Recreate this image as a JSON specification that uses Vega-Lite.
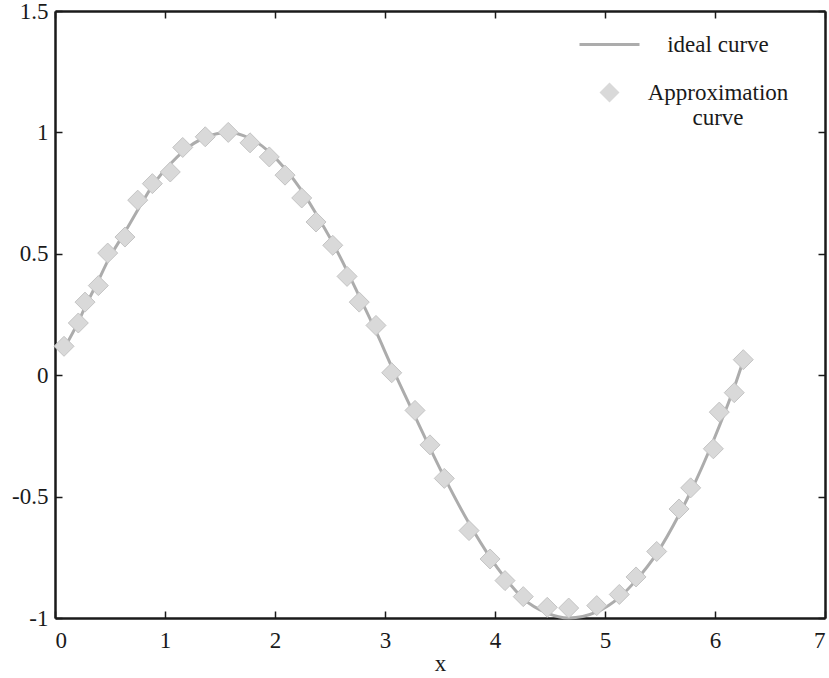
{
  "$schema": "https://vega.github.io/schema/vega-lite/v6.json",
  "width": 770,
  "height": 607,
  "autosize": {"type": "none"},
  "padding": {"left": 55, "top": 11, "right": 4, "bottom": 60},
  "background": "white",
  "config": {
    "view": {"stroke": null},
    "font": "'Liberation Serif', 'Times New Roman', Times, serif",
    "axis": {
      "grid": false,
      "domainColor": "#1a1a1a",
      "domainWidth": 2.5,
      "tickColor": "#1a1a1a",
      "tickWidth": 1.5,
      "tickSize": -7,
      "labelFont": "'Liberation Serif', 'Times New Roman', Times, serif",
      "labelFontSize": 23,
      "labelColor": "#1a1a1a",
      "titleFont": "'Liberation Serif', 'Times New Roman', Times, serif",
      "titleFontSize": 23,
      "titleFontWeight": "normal",
      "titleColor": "#1a1a1a"
    },
    "legend": {
      "labelFont": "'Liberation Serif', 'Times New Roman', Times, serif",
      "labelFontSize": 23,
      "labelColor": "#1a1a1a",
      "labelLimit": 400,
      "padding": 0
    }
  },
  "datasets": {
    "ideal": [
      {"x": 0.082, "y": 0.11, "series": "ideal curve"},
      {"x": 0.212, "y": 0.22, "series": "ideal curve"},
      {"x": 0.273, "y": 0.28, "series": "ideal curve"},
      {"x": 0.394, "y": 0.39, "series": "ideal curve"},
      {"x": 0.479, "y": 0.47, "series": "ideal curve"},
      {"x": 0.636, "y": 0.59, "series": "ideal curve"},
      {"x": 0.752, "y": 0.68, "series": "ideal curve"},
      {"x": 0.885, "y": 0.78, "series": "ideal curve"},
      {"x": 1.048, "y": 0.87, "series": "ideal curve"},
      {"x": 1.161, "y": 0.92, "series": "ideal curve"},
      {"x": 1.366, "y": 0.98, "series": "ideal curve"},
      {"x": 1.575, "y": 1.0, "series": "ideal curve"},
      {"x": 1.773, "y": 0.975, "series": "ideal curve"},
      {"x": 1.948, "y": 0.92, "series": "ideal curve"},
      {"x": 2.091, "y": 0.85, "series": "ideal curve"},
      {"x": 2.243, "y": 0.76, "series": "ideal curve"},
      {"x": 2.373, "y": 0.665, "series": "ideal curve"},
      {"x": 2.525, "y": 0.545, "series": "ideal curve"},
      {"x": 2.655, "y": 0.43, "series": "ideal curve"},
      {"x": 2.766, "y": 0.325, "series": "ideal curve"},
      {"x": 2.918, "y": 0.18, "series": "ideal curve"},
      {"x": 3.061, "y": 0.035, "series": "ideal curve"},
      {"x": 3.273, "y": -0.17, "series": "ideal curve"},
      {"x": 3.409, "y": -0.3, "series": "ideal curve"},
      {"x": 3.539, "y": -0.42, "series": "ideal curve"},
      {"x": 3.764, "y": -0.61, "series": "ideal curve"},
      {"x": 3.955, "y": -0.75, "series": "ideal curve"},
      {"x": 4.091, "y": -0.835, "series": "ideal curve"},
      {"x": 4.257, "y": -0.92, "series": "ideal curve"},
      {"x": 4.475, "y": -0.98, "series": "ideal curve"},
      {"x": 4.67, "y": -1.0, "series": "ideal curve"},
      {"x": 4.925, "y": -0.975, "series": "ideal curve"},
      {"x": 5.13, "y": -0.915, "series": "ideal curve"},
      {"x": 5.282, "y": -0.845, "series": "ideal curve"},
      {"x": 5.47, "y": -0.735, "series": "ideal curve"},
      {"x": 5.673, "y": -0.575, "series": "ideal curve"},
      {"x": 5.779, "y": -0.48, "series": "ideal curve"},
      {"x": 5.985, "y": -0.27, "series": "ideal curve"},
      {"x": 6.039, "y": -0.21, "series": "ideal curve"},
      {"x": 6.175, "y": -0.05, "series": "ideal curve"},
      {"x": 6.257, "y": 0.06, "series": "ideal curve"}
    ],
    "approx": [
      {"x": 0.082, "y": 0.119, "series": "Approximation curve"},
      {"x": 0.212, "y": 0.215, "series": "Approximation curve"},
      {"x": 0.273, "y": 0.301, "series": "Approximation curve"},
      {"x": 0.394, "y": 0.369, "series": "Approximation curve"},
      {"x": 0.479, "y": 0.503, "series": "Approximation curve"},
      {"x": 0.636, "y": 0.569, "series": "Approximation curve"},
      {"x": 0.752, "y": 0.721, "series": "Approximation curve"},
      {"x": 0.885, "y": 0.789, "series": "Approximation curve"},
      {"x": 1.048, "y": 0.837, "series": "Approximation curve"},
      {"x": 1.161, "y": 0.938, "series": "Approximation curve"},
      {"x": 1.366, "y": 0.982, "series": "Approximation curve"},
      {"x": 1.575, "y": 1.0, "series": "Approximation curve"},
      {"x": 1.773, "y": 0.957, "series": "Approximation curve"},
      {"x": 1.948, "y": 0.899, "series": "Approximation curve"},
      {"x": 2.091, "y": 0.824, "series": "Approximation curve"},
      {"x": 2.243, "y": 0.73, "series": "Approximation curve"},
      {"x": 2.373, "y": 0.631, "series": "Approximation curve"},
      {"x": 2.525, "y": 0.535, "series": "Approximation curve"},
      {"x": 2.655, "y": 0.407, "series": "Approximation curve"},
      {"x": 2.766, "y": 0.301, "series": "Approximation curve"},
      {"x": 2.918, "y": 0.205, "series": "Approximation curve"},
      {"x": 3.061, "y": 0.01, "series": "Approximation curve"},
      {"x": 3.273, "y": -0.145, "series": "Approximation curve"},
      {"x": 3.409, "y": -0.287, "series": "Approximation curve"},
      {"x": 3.539, "y": -0.425, "series": "Approximation curve"},
      {"x": 3.764, "y": -0.64, "series": "Approximation curve"},
      {"x": 3.955, "y": -0.757, "series": "Approximation curve"},
      {"x": 4.091, "y": -0.846, "series": "Approximation curve"},
      {"x": 4.257, "y": -0.912, "series": "Approximation curve"},
      {"x": 4.475, "y": -0.956, "series": "Approximation curve"},
      {"x": 4.67, "y": -0.959, "series": "Approximation curve"},
      {"x": 4.925, "y": -0.949, "series": "Approximation curve"},
      {"x": 5.13, "y": -0.903, "series": "Approximation curve"},
      {"x": 5.282, "y": -0.831, "series": "Approximation curve"},
      {"x": 5.47, "y": -0.726, "series": "Approximation curve"},
      {"x": 5.673, "y": -0.551, "series": "Approximation curve"},
      {"x": 5.779, "y": -0.464, "series": "Approximation curve"},
      {"x": 5.985, "y": -0.303, "series": "Approximation curve"},
      {"x": 6.039, "y": -0.152, "series": "Approximation curve"},
      {"x": 6.175, "y": -0.072, "series": "Approximation curve"},
      {"x": 6.257, "y": 0.064, "series": "Approximation curve"}
    ]
  },
  "layer": [
    {
      "data": {"name": "ideal"},
      "mark": {"type": "line", "interpolate": "monotone", "strokeWidth": 3},
      "encoding": {
        "x": {
          "field": "x", "type": "quantitative",
          "scale": {"domain": [0, 7], "nice": false, "zero": false},
          "axis": {"orient": "bottom", "values": [0, 1, 2, 3, 4, 5, 6, 7], "title": "x", "labelPadding": 18, "titlePadding": 0, "labelExpr": "'' + datum.value"}
        },
        "y": {
          "field": "y", "type": "quantitative",
          "scale": {"domain": [-1, 1.5], "nice": false, "zero": false},
          "axis": {"orient": "left", "values": [-1, -0.5, 0, 0.5, 1, 1.5], "title": null, "labelPadding": 14, "labelExpr": "'' + datum.value"}
        },
        "color": {
          "field": "series", "type": "nominal",
          "scale": {"domain": ["ideal curve"], "range": ["#acacac"]},
          "legend": {
            "orient": "none", "legendX": 523, "legendY": 2, "title": null,
            "symbolType": "stroke", "symbolSize": 3600, "symbolStrokeWidth": 3,
            "labelAlign": "center", "labelOffset": 77
          }
        }
      }
    },
    {
      "data": {"name": "approx"},
      "mark": {"type": "point", "filled": true, "size": 400, "fill": "#d9d9d9", "stroke": "#c4c4c4", "strokeWidth": 1, "opacity": 1},
      "encoding": {
        "x": {
          "field": "x", "type": "quantitative",
          "scale": {"domain": [0, 7], "nice": false, "zero": false},
          "axis": {"orient": "top", "values": [0, 1, 2, 3, 4, 5, 6, 7], "title": null, "labels": false}
        },
        "y": {
          "field": "y", "type": "quantitative",
          "scale": {"domain": [-1, 1.5], "nice": false, "zero": false},
          "axis": {"orient": "right", "values": [-1, -0.5, 0, 0.5, 1, 1.5], "title": null, "labels": false}
        },
        "shape": {
          "field": "series", "type": "nominal",
          "scale": {"domain": ["Approximation curve"], "range": ["diamond"]},
          "legend": {
            "orient": "none", "legendX": 543, "legendY": 70, "title": null,
            "symbolSize": 400, "symbolFillColor": "#d9d9d9", "symbolStrokeColor": "#c4c4c4", "symbolStrokeWidth": 1,
            "labelAlign": "center", "labelOffset": 97,
            "labelExpr": "['Approximation', 'curve']"
          }
        }
      }
    }
  ],
  "resolve": {"axis": {"x": "independent", "y": "independent"}}
}
